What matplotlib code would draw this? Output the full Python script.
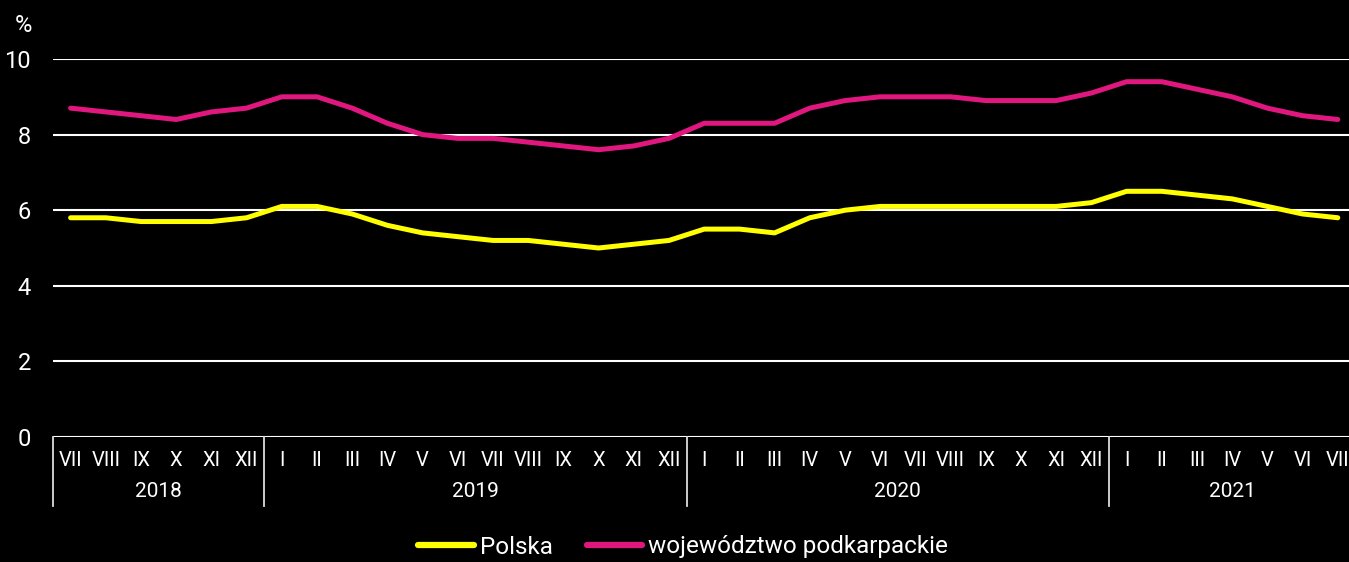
import matplotlib.pyplot as plt
import numpy as np

plt.rcParams['font.family'] = ['Roboto', 'DejaVu Sans']

months = ['VII', 'VIII', 'IX', 'X', 'XI', 'XII',
          'I', 'II', 'III', 'IV', 'V', 'VI', 'VII', 'VIII', 'IX', 'X', 'XI', 'XII',
          'I', 'II', 'III', 'IV', 'V', 'VI', 'VII', 'VIII', 'IX', 'X', 'XI', 'XII',
          'I', 'II', 'III', 'IV', 'V', 'VI', 'VII']
years = ['2018', '2019', '2020', '2021']
year_counts = [6, 12, 12, 7]

polska = [5.8, 5.8, 5.7, 5.7, 5.7, 5.8,
          6.1, 6.1, 5.9, 5.6, 5.4, 5.3, 5.2, 5.2, 5.1, 5.0, 5.1, 5.2,
          5.5, 5.5, 5.4, 5.8, 6.0, 6.1, 6.1, 6.1, 6.1, 6.1, 6.1, 6.2,
          6.5, 6.5, 6.4, 6.3, 6.1, 5.9, 5.8]
podkarpackie = [8.7, 8.6, 8.5, 8.4, 8.6, 8.7,
                9.0, 9.0, 8.7, 8.3, 8.0, 7.9, 7.9, 7.8, 7.7, 7.6, 7.7, 7.9,
                8.3, 8.3, 8.3, 8.7, 8.9, 9.0, 9.0, 9.0, 8.9, 8.9, 8.9, 9.1,
                9.4, 9.4, 9.2, 9.0, 8.7, 8.5, 8.4]

W, H = 1349, 562
fig = plt.figure(figsize=(W / 100, H / 100), dpi=100, facecolor='black')
step = 35.2
ax = fig.add_axes([53 / W, (H - 437) / H, 37 * step / W, (437 - 59) / H])
ax.set_facecolor('black')

x = np.arange(len(months))
ax.plot(x, polska, color='#ffff00', lw=3.6, solid_capstyle='round',
        solid_joinstyle='round', label='Polska', zorder=3)
ax.plot(x, podkarpackie, color='#e0177f', lw=3.6, solid_capstyle='round',
        solid_joinstyle='round', label='województwo podkarpackie', zorder=3)

ax.set_xlim(-0.5, len(months) - 0.5)
ax.set_ylim(0, 10)
ax.set_yticks(range(0, 11, 2))
ax.yaxis.grid(True, color='white', lw=1.5)
ax.set_axisbelow(True)
for s in ax.spines.values():
    s.set_visible(False)

ax.tick_params(axis='y', length=0, colors='white', labelsize=17, pad=16)
ax.set_xticks(x)
ax.set_xticklabels(months)
ax.tick_params(axis='x', length=0, colors='white', labelsize=14.5, pad=10)

# year separators and labels
trans = ax.get_xaxis_transform()
start = 0
bounds = [-0.5]
for yr, n in zip(years, year_counts):
    end = start + n
    bounds.append(end - 0.5)
    ax.text((start + end - 1) / 2, -0.143, yr, transform=trans, color='white',
            fontsize=15, ha='center', va='center')
    start = end
for b in bounds[:-1]:
    ax.plot([b, b], [0, -0.183], transform=trans, color='#dddddd', lw=1.3, clip_on=False)

fig.text(23 / W, 1 - 25 / H, '%', color='white', fontsize=17, ha='center', va='center')

leg = fig.legend(loc='center', bbox_to_anchor=(683 / W, 1 - 547 / H), ncol=2, frameon=False,
                 fontsize=17.5, handlelength=2.3, handletextpad=0.25, columnspacing=1.4,
                 labelcolor='white', borderpad=0)
for h in leg.legend_handles:
    h.set_linewidth(4.5)

fig.savefig('out.png', dpi=100, facecolor='black')
